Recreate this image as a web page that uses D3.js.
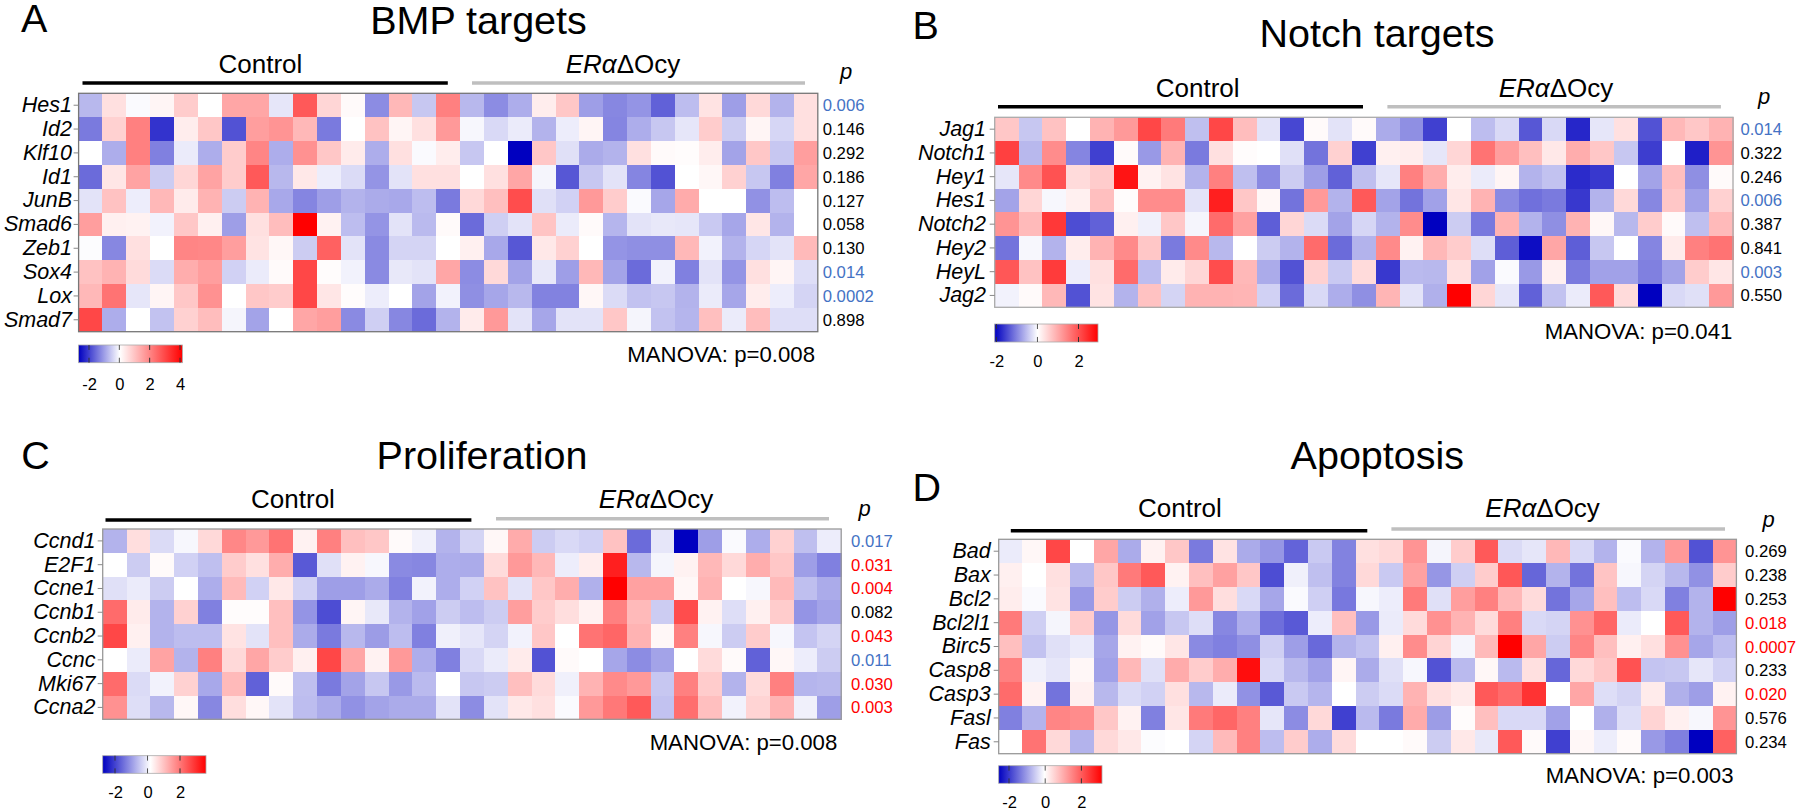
<!DOCTYPE html>
<html><head><meta charset="utf-8">
<style>html,body{margin:0;padding:0;background:#fff}svg{display:block}text{font-family:"Liberation Sans",Arial,sans-serif}</style>
<script src="https://cdn.jsdelivr.net/npm/d3@7"></script></head><body>
<script>
const bmpGenes=["Hes1","Id2","Klf10","Id1","JunB","Smad6","Zeb1","Sox4","Lox","Smad7"];
const bmpP=["0.006","0.146","0.292","0.186","0.127","0.058","0.130","0.014","0.0002","0.898"];
const bmpDir=["down","","","","","","","down","down",""];
const bmpTicks=[-2,0,2,4];
const bmpValues=[
[-28,12,-2,4,20,0,35,35,-10,65,16,2,-45,28,-22,50,-28,-45,-32,7,22,-38,-47,-42,-62,-26,11,-38,15,-30,12],
[-52,18,50,-80,7,22,-68,38,42,28,-52,0,24,4,12,40,-3,-15,-8,-30,-7,4,-48,-32,-22,-10,20,-20,4,-16,12],
[0,-32,50,-50,-8,-32,20,48,-32,43,22,8,-32,12,-2,7,-22,0,-100,22,-12,-33,-30,12,2,1,7,-36,22,-22,38],
[-58,10,36,-20,16,36,20,65,-28,9,-7,-14,-42,-11,12,12,0,12,35,-4,-66,-22,-11,-48,-68,0,3,18,-22,-50,35],
[-11,24,-7,28,8,30,-20,30,-34,-48,-38,-30,-33,-34,-26,-52,15,25,70,-12,-18,40,20,-2,-35,33,0,0,-43,-26,0],
[38,6,5,-5,22,6,-38,12,26,100,5,-26,-42,-11,-27,2,-58,-19,-11,23,-8,2,-29,-11,-9,-10,-21,-35,10,-30,0],
[-1,-47,12,0,48,47,38,11,3,-20,62,-11,-46,-17,-17,0,6,-34,-66,9,18,0,-42,-44,-44,28,-5,-30,-16,-11,27],
[24,30,14,-14,32,38,-18,-8,2,72,1,-5,-46,-9,-11,35,-45,15,-36,-9,-38,28,-36,-58,-5,-50,-11,-42,12,4,-13],
[28,55,-10,4,22,43,0,22,20,72,10,1,-7,0,-36,-5,-44,-35,-28,-49,-49,3,-14,-24,-22,-30,-8,-35,7,-7,-17],
[72,-32,0,-24,18,26,-4,-36,0,35,38,-46,-19,-47,-58,-30,8,40,-11,-35,-11,-11,22,-4,-24,-29,25,-8,26,-13,-13]];

const notchGenes=["Jag1","Notch1","Hey1","Hes1","Notch2","Hey2","HeyL","Jag2"];
const notchP=["0.014","0.322","0.246","0.006","0.387","0.841","0.003","0.550"];
const notchDir=["down","","","down","","","down",""];
const notchTicks=[-2,0,2];
const notchValues=[
[22,-22,24,0,30,40,72,52,-25,72,26,-11,-72,2,-11,2,-33,-44,-75,0,-26,-15,-66,-15,-85,-10,12,-68,28,22,30],
[75,-28,45,-48,-75,2,-40,30,-52,12,1,0,-12,-55,18,-75,6,7,-10,16,55,38,25,9,32,22,-22,-76,0,-88,42],
[-10,46,68,14,20,92,5,11,-30,50,-25,-46,-20,-38,-62,-25,-10,50,32,7,-8,4,-30,-24,-83,-78,0,-36,25,-44,2],
[-36,16,-3,6,25,1,45,45,-11,88,22,3,-55,40,-30,65,-36,-55,-37,10,30,-46,-56,-52,-78,-30,15,-47,22,-37,18],
[42,27,78,-70,-62,6,-6,22,-4,58,37,-63,16,-14,-36,-16,-30,45,-100,-20,-53,30,-30,-44,30,3,-28,20,2,-25,27],
[-55,-3,-30,7,30,46,22,-52,46,-28,0,-20,-30,58,-58,-30,46,5,28,20,-13,-63,-95,35,-63,-22,0,-48,8,50,55],
[66,24,77,-7,12,58,-26,8,16,70,28,-33,-68,18,-21,14,-78,-27,-28,12,-37,-2,-40,6,-52,-37,-37,-50,-36,20,10],
[-5,2,28,-68,11,-30,24,-17,30,30,29,-18,-58,-15,-32,-44,29,-11,-31,100,16,-10,-62,-24,-8,65,14,-100,-15,-12,40]];

const prolifGenes=["Ccnd1","E2F1","Ccne1","Ccnb1","Ccnb2","Ccnc","Mki67","Ccna2"];
const prolifP=["0.017","0.031","0.004","0.082","0.043","0.011","0.030","0.003"];
const prolifDir=["down","up","up","","up","down","up","up"];
const prolifTicks=[-2,0,2];
const prolifValues=[
[-30,13,-14,-3,15,47,40,55,5,50,25,22,2,-6,-30,-17,3,33,-20,-15,-18,24,-58,-10,-100,-38,-2,-32,18,-25,-7],
[0,-20,2,-18,-25,20,12,32,-65,-12,5,-3,-46,-47,-32,-33,14,40,28,-7,7,88,-28,-4,5,28,15,32,22,-38,-50],
[-12,-8,-20,0,-32,27,-18,9,-18,-38,-38,-33,-50,-5,-32,-18,24,-11,22,32,-31,100,37,37,3,30,0,-3,27,-25,-33],
[58,8,-30,18,-50,1,1,25,-42,-70,4,-9,-30,-37,-20,-26,-20,38,20,13,5,50,27,-20,70,5,-13,6,20,-42,-36],
[72,6,-30,-26,-26,11,-11,25,-33,-52,-28,-39,-26,-50,-6,-10,-17,-5,22,0,55,60,30,3,50,-3,-20,20,-3,-23,-17],
[0,-8,36,-30,50,15,35,20,6,72,35,5,40,-32,-50,-15,-8,8,-68,2,0,-35,-45,-36,0,14,2,-62,3,-7,-20],
[58,-14,-5,18,-34,27,-62,2,-25,-52,-36,-22,-40,-27,0,-22,-20,25,14,-6,30,46,40,-22,50,20,-30,14,50,-29,-28],
[43,-13,-28,3,-47,13,3,-11,-26,-33,-43,-36,-33,-33,-11,-45,-11,9,12,-2,40,53,65,-24,57,25,-5,17,30,-6,-38]];

const apopGenes=["Bad","Bax","Bcl2","Bcl2l1","Birc5","Casp8","Casp3","Fasl","Fas"];
const apopP=["0.269","0.238","0.253","0.018","0.0007","0.233","0.020","0.576","0.234"];
const apopDir=["","","","up","up","","up","",""];
const apopTicks=[-2,0,2];
const apopValues=[
[-8,3,72,0,35,-33,5,22,-52,11,-33,-41,-61,-21,-49,12,15,42,-4,20,65,-14,-10,28,-15,-30,-2,-30,40,-68,42],
[6,0,12,-28,22,52,65,5,25,37,22,-70,-6,-25,-49,15,-21,37,-41,-19,20,66,-60,-30,-55,23,-3,-17,-28,-43,20],
[7,-2,11,-40,20,-20,-31,-7,40,13,-15,-35,-2,-19,-53,-3,-7,52,-12,38,50,28,14,-55,-35,25,-26,-15,-50,-30,100],
[52,-19,-4,20,-41,14,-37,-22,-13,-47,-32,-57,-65,-7,25,-40,-8,14,43,30,14,50,-15,-17,43,60,-8,0,65,-30,-38],
[25,-24,-12,-8,-35,5,2,10,-46,-50,-44,-19,-38,-59,-30,-24,6,45,17,-4,27,100,35,-20,48,25,6,12,43,-35,-26],
[50,-6,-10,3,-37,28,-12,33,20,32,95,-15,-28,-37,4,-33,-12,-3,-68,-27,3,-27,12,-60,15,22,68,-23,-22,-10,-18],
[58,5,-55,6,-28,-14,-18,12,-28,-8,-43,-65,-21,-29,0,-20,-14,30,12,8,65,58,80,0,35,-13,-17,8,-31,-38,5],
[-50,-30,48,45,22,5,-50,10,52,60,50,-10,-45,15,-75,-27,-52,33,-39,1,25,-15,-15,-37,0,-31,-13,17,6,-3,42],
[0,55,15,-30,15,9,-1,0,-17,27,50,-26,20,-32,14,0,0,2,-20,9,-9,65,2,-75,3,-7,2,-40,-50,-100,62]];

// Layout of the four panels (positions only)
const panels=[
{letter:"A",lx:21,ly:31.7,title:"BMP targets",tx:478.5,ty:34.3,genes:bmpGenes,vals:bmpValues,p:bmpP,dir:bmpDir,ticks:bmpTicks,
 x0:78.6,x1:817.8,y0:93.3,y1:331.7,frame:"#777",
 ctlX:260.4,erX:623,capY:72.7,blk:[82.5,447.8,83],gry:[472,805,83],pX:846,pY:79,pvX:822.7,labX:72,
 leg:[78.6,182.4,345,362.7],legZ:[-2.72,4.12],legT:[89,180],legY:389.5,manX:815,manY:361.5,man:"MANOVA: p=0.008"},
{letter:"B",lx:912.6,ly:39.3,title:"Notch targets",tx:1377,ty:47.3,genes:notchGenes,vals:notchValues,p:notchP,dir:notchDir,ticks:notchTicks,
 x0:994.7,x1:1733,y0:117.3,y1:307.3,frame:"#aaa",
 ctlX:1197.7,erX:1556,capY:96.7,blk:[998,1363,106.7],gry:[1387.4,1720.9,106.7],pX:1764,pY:103.5,pvX:1740.4,labX:986,
 leg:[994.7,1098,324,342],legZ:[-2.08,2.92],legT:[996.4,1078.5],legY:366.7,manX:1732.4,manY:339,man:"MANOVA: p=0.041"},
{letter:"C",lx:21.3,ly:469.3,title:"Proliferation",tx:482,ty:469.3,genes:prolifGenes,vals:prolifValues,p:prolifP,dir:prolifDir,ticks:prolifTicks,
 x0:102.7,x1:841.2,y0:529,y1:719.3,frame:"#999",
 ctlX:293,erX:656,capY:508.3,blk:[105.5,471.4,520],gry:[496,829,518.7],pX:864.5,pY:516,pvX:851,labX:95.4,
 leg:[102.7,206,755.7,773.3],legZ:[-2.75,3.2],legT:[115,180],legY:798.3,manX:837.3,manY:750,man:"MANOVA: p=0.008"},
{letter:"D",lx:912.6,ly:500.7,title:"Apoptosis",tx:1377.3,ty:469.3,genes:apopGenes,vals:apopValues,p:apopP,dir:apopDir,ticks:apopTicks,
 x0:998.7,x1:1736.4,y0:539.3,y1:753.7,frame:"#999",
 ctlX:1179.9,erX:1542.6,capY:516.7,blk:[1010.8,1367.3,530.7],gry:[1391.4,1725,529],pX:1768.5,pY:526.5,pvX:1745,labX:990.7,
 leg:[998.7,1102,765.7,783.3],legZ:[-2.55,3.2],legT:[1009,1081.4],legY:807.7,manX:1733.5,manY:783.3,man:"MANOVA: p=0.003"}];

const blue="#0000c0",red="#ff0000";
const color=d3.scaleLinear().domain([-100,0,100]).range([blue,"#ffffff",red]);
const pColor={down:"#4472c4",up:"#ff0000","":"#000000"};
const svg=d3.select("body").append("svg").attr("width",1800).attr("height",812).style("background","#fff");
const defs=svg.append("defs");

panels.forEach((P,pi)=>{
  const g=svg.append("g");
  g.append("text").attr("x",P.lx).attr("y",P.ly).attr("font-size",39.5).text(P.letter);
  g.append("text").attr("x",P.tx).attr("y",P.ty).attr("text-anchor","middle").attr("font-size",39.5).text(P.title);
  g.append("text").attr("x",P.ctlX).attr("y",P.capY).attr("text-anchor","middle").attr("font-size",26).text("Control");
  const er=g.append("text").attr("x",P.erX).attr("y",P.capY).attr("text-anchor","middle").attr("font-size",26);
  er.append("tspan").attr("font-style","italic").text("ERα");
  er.append("tspan").text("ΔOcy");
  g.append("line").attr("x1",P.blk[0]).attr("x2",P.blk[1]).attr("y1",P.blk[2]).attr("y2",P.blk[2]).attr("stroke","#000").attr("stroke-width",3.6);
  g.append("line").attr("x1",P.gry[0]).attr("x2",P.gry[1]).attr("y1",P.gry[2]).attr("y2",P.gry[2]).attr("stroke","#bfbfbf").attr("stroke-width",3.6);
  g.append("text").attr("x",P.pX).attr("y",P.pY).attr("text-anchor","middle").attr("font-size",22).attr("font-style","italic").text("p");

  const n=P.vals[0].length;
  const x=d3.scaleBand().domain(d3.range(n)).range([P.x0,P.x1]);
  const y=d3.scaleBand().domain(P.genes).range([P.y0,P.y1]);

  g.append("g").selectAll("g").data(P.vals).join("g")
   .attr("transform",(d,i)=>`translate(0,${y(P.genes[i])})`)
   .selectAll("rect").data(d=>d).join("rect")
   .attr("x",(d,j)=>x(j)).attr("y",0).attr("width",x.bandwidth()+0.5).attr("height",y.bandwidth()+0.5)
   .attr("fill",d=>color(d)).attr("shape-rendering","crispEdges");
  g.append("rect").attr("x",P.x0).attr("y",P.y0).attr("width",P.x1-P.x0).attr("height",P.y1-P.y0)
   .attr("fill","none").attr("stroke",P.frame).attr("stroke-width",1.3);

  // gene labels
  const ax=g.append("g").attr("transform",`translate(${P.x0},0)`)
   .call(d3.axisLeft(y).tickSize(P.x0-P.labX-2.5).tickPadding(2.5));
  ax.select(".domain").remove();
  ax.selectAll(".tick line").attr("x2",-5).attr("stroke","#888");
  ax.selectAll(".tick text").attr("x",P.labX-P.x0).attr("font-family",'"Liberation Sans",Arial,sans-serif')
    .attr("font-size",21.5).attr("font-style","italic").attr("fill","#000");

  // p values
  g.append("g").selectAll("text").data(P.p).join("text")
   .attr("x",P.pvX).attr("y",(d,i)=>y(P.genes[i])+y.bandwidth()/2).attr("dy","0.36em")
   .attr("font-size",16.7).attr("fill",(d,i)=>pColor[P.dir[i]]).text(d=>d);

  // MANOVA
  g.append("text").attr("x",P.manX).attr("y",P.manY).attr("text-anchor","end").attr("font-size",22.2).text(P.man);

  // legend
  const L=P.leg;
  const lz=d3.scaleLinear().domain(P.legZ).range([L[0],L[1]]);
  const zeroFrac=(lz(0)-L[0])/(L[1]-L[0]);
  const gid="grad"+pi;
  const gr=defs.append("linearGradient").attr("id",gid);
  gr.append("stop").attr("offset",0).attr("stop-color",blue);
  gr.append("stop").attr("offset",zeroFrac).attr("stop-color","#fff");
  gr.append("stop").attr("offset",1).attr("stop-color",red);
  g.append("rect").attr("x",L[0]).attr("y",L[2]).attr("width",L[1]-L[0]).attr("height",L[3]-L[2])
   .attr("fill",`url(#${gid})`).attr("stroke","#aaa").attr("stroke-width",0.8);
  const tx=d3.scaleLinear().domain([P.ticks[0],P.ticks[P.ticks.length-1]]).range(P.legT);
  g.append("g").selectAll("path").data(P.ticks).join("path")
   .attr("d",d=>{const h=(L[3]-L[2])*0.28;const X=tx(d);return `M${X},${L[2]}v${h}M${X},${L[3]}v${-h}`;})
   .attr("stroke",d=>d===0?"#555":"#333").attr("stroke-width",1).attr("fill","none");
  const lax=g.append("g").attr("transform",`translate(0,${P.legY})`)
   .call(d3.axisBottom(tx).tickValues(P.ticks).tickFormat(d=>String(d)).tickSize(0).tickPadding(0));
  lax.select(".domain").remove();
  lax.selectAll(".tick text").attr("y",0).attr("dy",0).attr("font-family",'"Liberation Sans",Arial,sans-serif')
    .attr("font-size",16.5).attr("fill","#000");
});
</script></body></html>
